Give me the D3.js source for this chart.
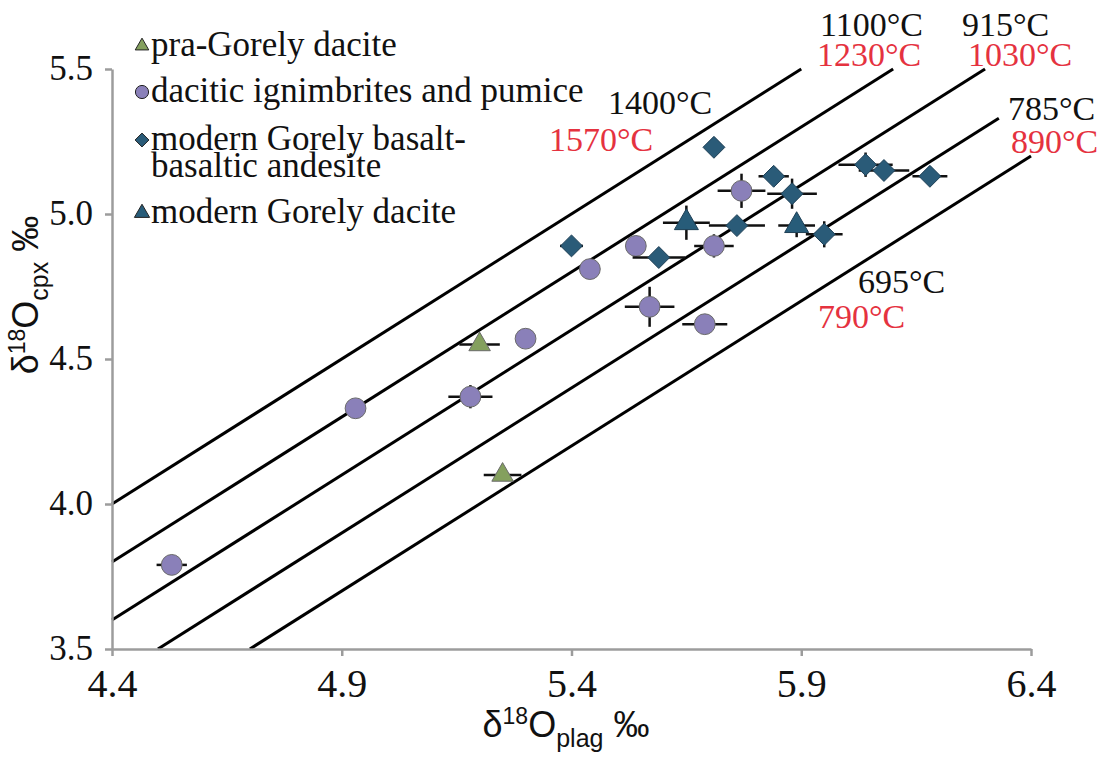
<!DOCTYPE html>
<html>
<head>
<meta charset="utf-8">
<script src="https://cdn.jsdelivr.net/npm/d3@7"></script>
<style>
  body { margin: 0; background: #fff; }
  svg { display: block; }
</style>
</head>
<body>
<svg id="chart" width="1103" height="761"></svg>
<script>
// values
const xTicks = [4.4, 4.9, 5.4, 5.9, 6.4];
const yTicks = [3.5, 4.0, 4.5, 5.0, 5.5];

// isotherms: d18Ocpx = d18Oplag - delta
const isoDelta = [0.4, 0.6, 0.8, 1.0, 1.2];
const isoFrom = [4.4, 4.4, 4.4, 4.5, 4.7];
const isoTo = [5.9, 6.1, 6.3, 6.33, 6.4];
const isoBlack = ["1400°C", "1100°C", "915°C", "785°C", "695°C"];
const isoRed = ["1570°C", "1230°C", "1030°C", "890°C", "790°C"];

// [x, y, errX, errY]
const praGorely = [
  [5.20, 4.55, 0.044, 0],
  [5.25, 4.10, 0.041, 0]
];
const ignimbrites = [
  [4.53, 3.79, 0.033, 0],
  [4.93, 4.33, 0, 0],
  [5.18, 4.37, 0.048, 0.04],
  [5.30, 4.57, 0, 0],
  [5.44, 4.81, 0, 0],
  [5.54, 4.89, 0, 0],
  [5.57, 4.68, 0.054, 0.069],
  [5.69, 4.62, 0.049, 0],
  [5.71, 4.89, 0.043, 0.04],
  [5.77, 5.08, 0.052, 0.059]
];
const basalts = [
  [5.40, 4.89, 0.025, 0],
  [5.59, 4.85, 0.057, 0],
  [5.71, 5.23, 0, 0],
  [5.76, 4.96, 0.061, 0],
  [5.84, 5.13, 0.033, 0],
  [5.88, 5.07, 0.054, 0.052],
  [5.95, 4.93, 0.04, 0.045],
  [6.04, 5.17, 0.059, 0.042],
  [6.08, 5.15, 0.055, 0],
  [6.18, 5.13, 0.038, 0]
];
const modernDacite = [
  [5.65, 4.97, 0.051, 0.059],
  [5.89, 4.96, 0.04, 0.04]
];

const svg = d3.select("#chart");
const x = d3.scaleLinear().domain([4.4, 6.4]).range([112, 1031]);
const y = d3.scaleLinear().domain([3.5, 5.5]).range([649, 69]);

const serif = "Liberation Serif";
const sans = "Liberation Sans";
const axisGray = "#9c9c9c";

// isotherm lines
const iso = isoDelta.map((d, i) => ({d: d, x0: isoFrom[i], x1: isoTo[i]}));
svg.append("g").selectAll("line")
  .data(iso)
  .join("line")
  .attr("x1", d => x(d.x0)).attr("y1", d => y(d.x0 - d.d))
  .attr("x2", d => x(d.x1)).attr("y2", d => y(d.x1 - d.d))
  .attr("stroke", "#000")
  .attr("stroke-width", 3);

// axes
const xAxis = svg.append("g")
  .attr("transform", `translate(0,${y(3.5)})`)
  .call(d3.axisBottom(x).tickValues(xTicks).tickSize(7).tickSizeOuter(0).tickPadding(8).tickFormat(d3.format(".1f")))
  .attr("font-family", serif)
  .attr("font-size", 40);
const yAxis = svg.append("g")
  .attr("transform", `translate(${x(4.4)},0)`)
  .call(d3.axisLeft(y).tickValues(yTicks).tickSize(7).tickSizeOuter(0).tickPadding(12).tickFormat(d3.format(".1f")))
  .attr("font-family", serif)
  .attr("font-size", 35);
[xAxis, yAxis].forEach(g => {
  g.select(".domain").attr("stroke", axisGray).attr("stroke-width", 2.5);
  g.selectAll(".tick line").attr("stroke", axisGray).attr("stroke-width", 2.5);
  g.selectAll(".tick text").attr("fill", "#111");
});
xAxis.selectAll(".tick text").attr("dy", "0.82em");
yAxis.selectAll(".tick text").attr("dy", "0.3em");

// axis titles
const xt = svg.append("text")
  .attr("x", 566).attr("y", 737)
  .attr("text-anchor", "middle")
  .attr("font-family", sans).attr("font-size", 36).attr("fill", "#111");
xt.append("tspan").text("δ");
xt.append("tspan").attr("dy", -13).attr("font-size", 23).text("18");
xt.append("tspan").attr("dy", 13).text("O");
xt.append("tspan").attr("dy", 10).attr("font-size", 25).text("plag");
xt.append("tspan").attr("dy", -10).text(" ‰");

const yt = svg.append("text")
  .attr("transform", "translate(38,295) rotate(-90)")
  .attr("text-anchor", "middle")
  .attr("font-family", sans).attr("font-size", 36).attr("fill", "#111");
yt.append("tspan").text("δ");
yt.append("tspan").attr("dy", -13).attr("font-size", 23).text("18");
yt.append("tspan").attr("dy", 13).text("O");
yt.append("tspan").attr("dy", 10).attr("font-size", 25).text("cpx");
yt.append("tspan").attr("dy", -10).text(" ‰");

// rotated square, like the spreadsheet diamond marker
const diamond = {
  draw(ctx, size) {
    const r = Math.sqrt(size / 2);
    ctx.moveTo(0, -r); ctx.lineTo(r, 0); ctx.lineTo(0, r); ctx.lineTo(-r, 0); ctx.closePath();
  }
};

// series styles
const series = [
  {name: "pra", data: praGorely, shape: d3.symbolTriangle, size: 200, fill: "#84a05e", stroke: "#6a6a6a"},
  {name: "ign", data: ignimbrites, shape: d3.symbolCircle, size: 340, fill: "#8a80b9", stroke: "#6a6a6a"},
  {name: "bas", data: basalts, shape: diamond, size: 240, fill: "#2a5b78", stroke: "#1e3f55"},
  {name: "dac", data: modernDacite, shape: d3.symbolTriangle, size: 250, fill: "#275c79", stroke: "#1e3f55"}
];

// error bars first, markers on top within each series
series.forEach(s => {
  const g = svg.append("g").attr("class", s.name);
  g.selectAll(".ex")
    .data(s.data.filter(d => d[2] > 0))
    .join("line")
    .attr("x1", d => x(d[0] - d[2])).attr("x2", d => x(d[0] + d[2]))
    .attr("y1", d => y(d[1])).attr("y2", d => y(d[1]))
    .attr("stroke", "#111").attr("stroke-width", 2.5);
  g.selectAll(".ey")
    .data(s.data.filter(d => d[3] > 0))
    .join("line")
    .attr("x1", d => x(d[0])).attr("x2", d => x(d[0]))
    .attr("y1", d => y(d[1] - d[3])).attr("y2", d => y(d[1] + d[3]))
    .attr("stroke", "#111").attr("stroke-width", 2.5);
  g.selectAll("path")
    .data(s.data)
    .join("path")
    .attr("transform", d => `translate(${x(d[0])},${y(d[1])})`)
    .attr("d", d3.symbol().type(s.shape).size(s.size))
    .attr("fill", s.fill)
    .attr("stroke", s.stroke)
    .attr("stroke-width", 1);
});

// isotherm labels
const labelPos = [
  {bx: 608, by: 114, rx: 549, ry: 151},
  {bx: 820, by: 36, rx: 817, ry: 66},
  {bx: 962, by: 36, rx: 968, ry: 66},
  {bx: 1008, by: 120, rx: 1011, ry: 153},
  {bx: 858, by: 293, rx: 818, ry: 328}
];
svg.append("g").selectAll("text.blk")
  .data(isoBlack)
  .join("text")
  .attr("x", (d, i) => labelPos[i].bx).attr("y", (d, i) => labelPos[i].by)
  .attr("font-family", serif).attr("font-size", 34).attr("fill", "#111")
  .text(d => d);
svg.append("g").selectAll("text.red")
  .data(isoRed)
  .join("text")
  .attr("x", (d, i) => labelPos[i].rx).attr("y", (d, i) => labelPos[i].ry)
  .attr("font-family", serif).attr("font-size", 34).attr("fill", "#e5323f")
  .text(d => d);

// legend
const legendItems = [
  {s: series[0], lines: ["pra-Gorely dacite"], y: 56},
  {s: series[1], lines: ["dacitic ignimbrites and pumice"], y: 102},
  {s: series[2], lines: ["modern Gorely basalt-", "basaltic andesite"], y: 150},
  {s: series[3], lines: ["modern Gorely dacite"], y: 223}
];
const lg = svg.append("g");
legendItems.forEach(it => {
  lg.append("path")
    .attr("transform", `translate(142,${it.y - 10})`)
    .attr("d", d3.symbol().type(it.s.shape).size(it.s.size * 0.4))
    .attr("fill", it.s.fill)
    .attr("stroke", "#222")
    .attr("stroke-width", 1);
  it.lines.forEach((t, j) => {
    lg.append("text")
      .attr("x", 151).attr("y", it.y + j * 27)
      .attr("font-family", serif).attr("font-size", 35).attr("fill", "#111")
      .text(t);
  });
});
</script>
</body>
</html>
